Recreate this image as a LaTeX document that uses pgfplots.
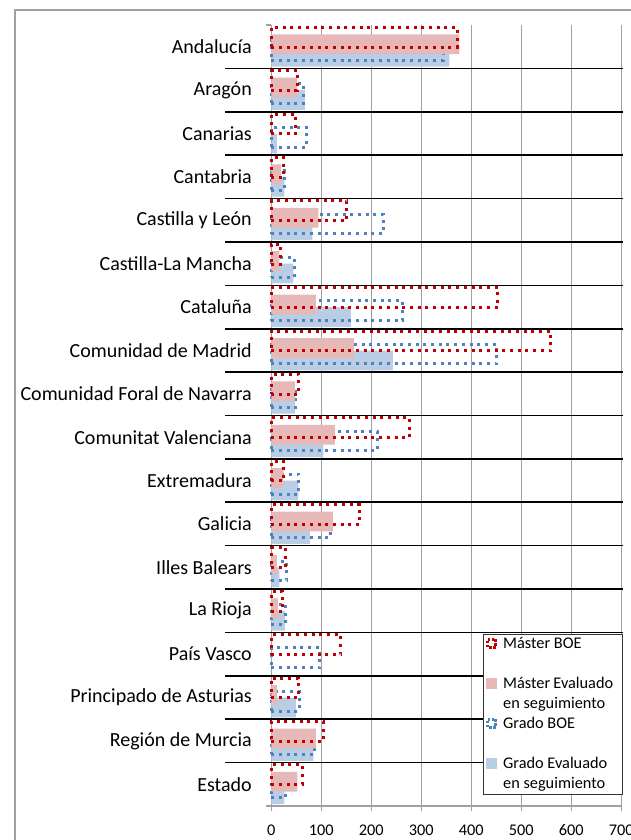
\documentclass[border=0pt]{standalone}
\usepackage{fontspec}
\setmainfont{Carlito}
\usepackage{pgfplots}
\usepackage{pgfplotstable}
\pgfplotsset{compat=1.18}
\definecolor{mred}{RGB}{192,0,0}
\definecolor{mpink}{RGB}{230,185,184}
\definecolor{gblue}{RGB}{79,129,189}
\definecolor{gfill}{RGB}{185,205,229}
\definecolor{gridgray}{RGB}{160,160,160}
\pgfplotsset{
  legfill/.style={legend image code/.code={\fill[##1] (0pt,0pt) rectangle (11pt,11pt);}},
  legdot/.style={legend image code/.code={\draw[##1,line width=3pt,dash pattern=on 2.5pt off 1.5pt] (1.5pt,1.5pt) rectangle (9.5pt,9.5pt);}},
}
\pgfplotstableread{
y mboe meval gboe geval
17 372 376 344 356
16 52 51 64 67
15 49 0 71 11
14 25 19 26 26
13 151 94 224 82
12 19 16 46 44
11 453 89 262 159
10 559 165 451 243
9 55 47 49 47
8 277 127 212 104
7 25 24 55 54
6 177 123 119 77
5 29 11 31 16
4 23 13 29 27
3 139 0 97 0
2 54 11 56 49
1 104 89 86 84
0 62 52 29 26
}\datatable
\begin{document}
\begin{tikzpicture}
\useasboundingbox (0,0) rectangle (630pt,840pt);
\draw[color=gridgray, line width=1.6pt] (15pt,-10pt) -- (15pt,830pt) -- (650pt,830pt);
\begin{axis}[
  at={(271.3pt,34pt)}, anchor=south west,
  scale only axis, width=350pt, height=781pt,
  xmin=0, xmax=700, ymin=-0.5, ymax=17.5,
  clip=false,
  axis x line*=bottom, axis y line*=left,
  axis line style={draw=gridgray, line width=1.6pt},
  xtick={0,100,...,700},
  ytick={-0.5,0.5,...,16.5},
  yticklabels={Estado,Región de Murcia,Principado de Asturias,País Vasco,La Rioja,Illes Balears,Galicia,Extremadura,Comunitat Valenciana,Comunidad Foral de Navarra,Comunidad de Madrid,Cataluña,Castilla-La Mancha,Castilla y León,Cantabria,Canarias,Aragón,Andalucía},
  extra y ticks={17.5}, extra y tick labels={},
  tick align=outside, major tick length=5pt,
  tick style={draw=gridgray, line width=1.2pt},
  xmajorgrids, grid style={draw=gridgray, line width=1.6pt},
  /pgf/number format/assume math mode=true,
  xticklabel style={font=\fontsize{16.3}{19}\selectfont, text=black, yshift=-10pt},
  yticklabel style={font=\fontsize{20}{24}\selectfont, text=black, yshift=21.7pt, xshift=-11pt},
  reverse legend,
  legend cell align=left,
  legend style={at={(0.604,0.2202)}, anchor=north west, draw=black!80, line width=1pt,
    fill=white, inner xsep=3pt, inner ysep=0pt, row sep=0pt,
    font=\fontsize{16.3}{20}\selectfont,
    nodes={text depth=, text height=, inner xsep=6pt, inner ysep=0pt},
    cells={anchor=base west}},
]
\addplot[xbar, legfill, bar width=0.455, bar shift=-0.230, fill=gfill, draw=none]
  table[x=geval,y=y]{\datatable};
\addlegendentry{\parbox[t]{110pt}{\strut Grado Evaluado\\en seguimiento\strut}}
\addplot[xbar, legdot, bar width=0.455, bar shift=-0.085, draw=gblue, fill=none, line width=3pt, dash pattern=on 3pt off 4.7pt]
  table[x=gboe,y=y]{\datatable};
\addlegendentry{\parbox[t]{110pt}{\strut Grado BOE\\\strut}}
\addplot[xbar, legfill, bar width=0.455, bar shift=0.058, fill=mpink, draw=none]
  table[x=meval,y=y]{\datatable};
\addlegendentry{\parbox[t]{110pt}{\strut Máster Evaluado\\en seguimiento\strut}}
\addplot[xbar, legdot, bar width=0.455, bar shift=0.219, draw=mred, fill=none, line width=3pt, dash pattern=on 3pt off 4.7pt]
  table[x=mboe,y=y]{\datatable};
\addlegendentry{\parbox[t]{110pt}{\strut Máster BOE\\\strut}}
\pgfplotsinvokeforeach{0.5,1.5,...,16.5}{\draw[black, line width=1.6pt] (axis cs:-93,#1) -- (axis cs:703,#1);}
\end{axis}
\end{tikzpicture}
\end{document}
